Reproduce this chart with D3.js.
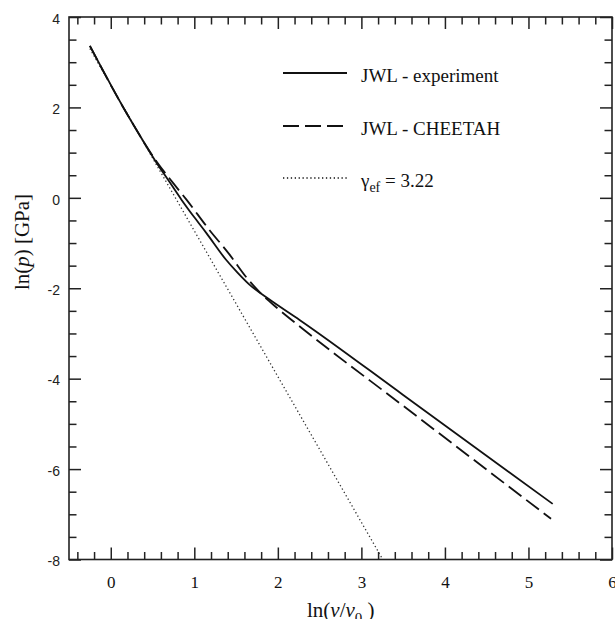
<!DOCTYPE html>
<html>
<head>
<meta charset="utf-8">
<script src="https://cdn.jsdelivr.net/npm/d3@7"></script>
<style>
body { margin: 0; background: #fff; }
.axis path { display: none; }
.axis line { stroke: #222; stroke-width: 1.5; }
.serif { font-family: "Liberation Serif", "Times New Roman", serif; }
</style>
</head>
<body>
<svg id="chart" width="615" height="619"></svg>
<script>
var width = 615,
height = 619,
margin = {top: 17, right: 3, bottom: 59.5, left: 69},
svg = d3.select("#chart")

// JWL - experiment (solid)
var expX = [-0.25, 0.0, 0.19, 0.4, 0.55, 0.7, 0.846, 1.0, 1.145, 1.38, 1.52, 1.66, 1.9, 2.26, 3.5, 5.29]
var expY = [3.36, 2.50, 1.87, 1.22, 0.77, 0.36, -0.04, -0.43, -0.78, -1.37, -1.66, -1.92, -2.25, -2.70, -4.36, -6.77]

// JWL - CHEETAH (dashed)
var cheetahX = [-0.25, 0.19, 0.55, 0.75, 0.906, 1.18, 1.42, 1.62, 1.8, 2.0, 2.3, 3.5, 5.27]
var cheetahY = [3.36, 1.87, 0.80, 0.32, -0.04, -0.71, -1.25, -1.75, -2.12, -2.45, -2.90, -4.60, -7.10]

// gamma_ef = 3.22 (dotted straight line)
var gammaX = [-0.25, 3.24]
var gammaY = [3.30, -7.95]

var xMajor = [0, 1, 2, 3, 4, 5, 6]
var yMajor = [-8, -6, -4, -2, 0, 2, 4]
var legendNames = ["JWL - experiment", "JWL - CHEETAH", "\u03b3"]

var x = d3.scaleLinear()
	.domain([-0.5, 6])
	.range([margin.left, width - margin.right])

var y = d3.scaleLinear()
	.domain([-8, 4])
	.range([height - margin.bottom, margin.top])

var xMinor = d3.range(-0.4, 6, 0.2).filter(function(d) { return Math.abs(d - Math.round(d)) > 0.01; })
var yMinor = d3.range(-8, 4, 0.5).filter(function(d) { return Math.abs(d / 2 - Math.round(d / 2)) > 0.01; })

var bottom = height - margin.bottom,
right = width - margin.right

// plain hyphen for negatives, like the original
var plain = function(d) { return String(d); }

// ticks, all pointing inward
svg.append("g").attr("class", "axis").attr("transform", "translate(0," + bottom + ")")
	.call(d3.axisBottom(x).tickValues(xMinor).tickSize(-7.5).tickFormat(""))
svg.append("g").attr("class", "axis").attr("transform", "translate(0," + margin.top + ")")
	.call(d3.axisTop(x).tickValues(xMinor).tickSize(-7.5).tickFormat(""))
svg.append("g").attr("class", "axis").attr("transform", "translate(0," + margin.top + ")")
	.call(d3.axisTop(x).tickValues(xMajor).tickSize(-12).tickFormat(""))
svg.append("g").attr("class", "axis").attr("transform", "translate(" + margin.left + ",0)")
	.call(d3.axisLeft(y).tickValues(yMinor).tickSize(-7.5).tickFormat(""))
svg.append("g").attr("class", "axis").attr("transform", "translate(" + right + ",0)")
	.call(d3.axisRight(y).tickValues(yMinor).tickSize(-7.5).tickFormat(""))
svg.append("g").attr("class", "axis").attr("transform", "translate(" + right + ",0)")
	.call(d3.axisRight(y).tickValues(yMajor).tickSize(-12).tickFormat(""))

var xAxis = svg.append("g").attr("class", "axis").attr("transform", "translate(0," + bottom + ")")
	.call(d3.axisBottom(x).tickValues(xMajor).tickSize(-12).tickPadding(16).tickFormat(plain))
xAxis.selectAll("text")
	.attr("font-family", "Liberation Serif")
	.attr("font-size", "17px")
	.attr("fill", "#111")

var yAxis = svg.append("g").attr("class", "axis").attr("transform", "translate(" + margin.left + ",0)")
	.call(d3.axisLeft(y).tickValues(yMajor).tickSize(-12).tickPadding(9).tickFormat(plain))
yAxis.selectAll("text")
	.attr("font-family", "Liberation Sans")
	.attr("font-size", "14px")
	.attr("fill", "#222")
	.attr("dy", "0.45em")

// frame
svg.append("rect")
	.attr("x", margin.left)
	.attr("y", margin.top)
	.attr("width", right - margin.left)
	.attr("height", bottom - margin.top)
	.attr("fill", "none")
	.attr("stroke", "#222")
	.attr("stroke-width", 1.6)

var line = d3.line()
	.x(function(d) { return x(d[0]); })
	.y(function(d) { return y(d[1]); })

var lines = svg.append("g").attr("class", "lines")

lines.append("path")
	.datum(d3.zip(gammaX, gammaY))
	.attr("d", line.curve(d3.curveLinear))
	.attr("fill", "none")
	.attr("stroke", "#333")
	.attr("stroke-width", 1.3)
	.attr("stroke-dasharray", "1.3,2.6")

line.curve(d3.curveMonotoneX)

lines.append("path")
	.datum(d3.zip(cheetahX, cheetahY))
	.attr("d", line)
	.attr("fill", "none")
	.attr("stroke", "#111")
	.attr("stroke-width", 1.8)
	.attr("stroke-dasharray", "16,6")

lines.append("path")
	.datum(d3.zip(expX, expY))
	.attr("d", line)
	.attr("fill", "none")
	.attr("stroke", "#111")
	.attr("stroke-width", 1.8)

// legend
var legend = svg.append("g").attr("class", "legend")
var legendY = [73, 126, 178],
legendDash = [null, "16,6", "1.3,2.6"],
legendWidth = [1.8, 1.8, 1.3]

legend.selectAll("line")
	.data(legendNames)
	.enter()
	.append("line")
	.attr("x1", 283)
	.attr("x2", 347)
	.attr("y1", function(d, i) { return legendY[i]; })
	.attr("y2", function(d, i) { return legendY[i]; })
	.attr("stroke", "#111")
	.attr("stroke-width", function(d, i) { return legendWidth[i]; })
	.attr("stroke-dasharray", function(d, i) { return legendDash[i]; })

var ltext = legend.selectAll("text")
	.data(legendNames)
	.enter()
	.append("text")
	.attr("class", "serif")
	.attr("x", 361)
	.attr("y", function(d, i) { return legendY[i] + 9; })
	.attr("font-size", "19px")
	.attr("fill", "#111")
	.text(function(d) { return d; })

var gText = d3.select(ltext.nodes()[2])
gText.append("tspan").attr("dy", 5).attr("font-size", "14px").text("ef")
gText.append("tspan").attr("dy", -5).text(" = 3.22")

// axis titles
var yTitle = svg.append("text")
	.attr("class", "serif")
	.attr("transform", "translate(29," + 242 + ") rotate(-90)")
	.attr("text-anchor", "middle")
	.attr("font-size", "21px")
	.attr("fill", "#111")
yTitle.append("tspan").text("ln(")
yTitle.append("tspan").attr("font-style", "italic").text("p")
yTitle.append("tspan").text(") [GPa]")

var xTitle = svg.append("text")
	.attr("class", "serif")
	.attr("x", 307)
	.attr("y", 617)
	.attr("font-size", "21px")
	.attr("fill", "#111")
xTitle.append("tspan").text("ln(")
xTitle.append("tspan").attr("font-style", "italic").text("v")
xTitle.append("tspan").text("/")
xTitle.append("tspan").attr("font-style", "italic").text("v")
xTitle.append("tspan").attr("dy", 6).attr("font-size", "15px").text("0")
xTitle.append("tspan").attr("dy", -6).text(" )")
</script>
</body>
</html>
